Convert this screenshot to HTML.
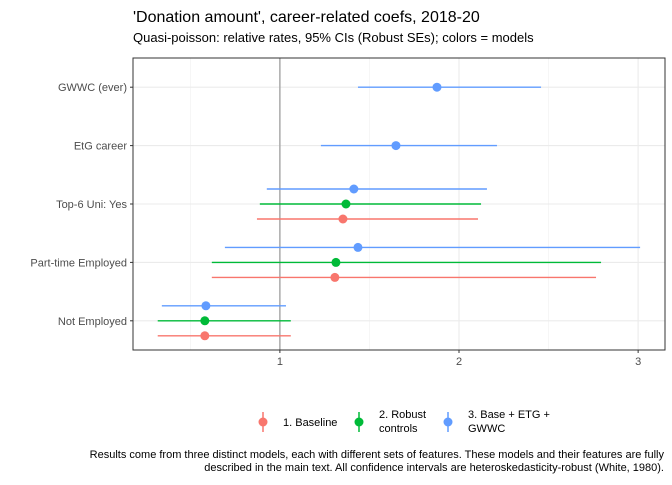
<!DOCTYPE html>
<html><head><meta charset="utf-8"><style>
body{margin:0;background:#fff;font-family:"Liberation Sans",Arial,sans-serif}
text{font-family:"Liberation Sans",Arial,sans-serif}
</style></head><body>
<svg id="c" width="672" height="480" viewBox="0 0 672 480">
<rect width="672" height="480" fill="#fff"/>
<text x="133" y="22" font-size="16" fill="#000">'Donation amount', career-related coefs, 2018-20</text>
<text x="133" y="42" font-size="13" fill="#000">Quasi-poisson: relative rates, 95% CIs (Robust SEs); colors = models</text>
<g id="grid"></g>
<g id="marks"></g>
<g id="axes"></g>
<g font-size="11" fill="#000">
<line x1="263" y1="412" x2="263" y2="432" stroke="#F8766D" stroke-width="1.5"/><circle cx="263" cy="422" r="4.5" fill="#F8766D"/>
<text x="283" y="426">1. Baseline</text>
<line x1="359" y1="412" x2="359" y2="432" stroke="#00BA38" stroke-width="1.5"/><circle cx="359" cy="422" r="4.5" fill="#00BA38"/>
<text x="379" y="418">2. Robust</text><text x="379" y="432">controls</text>
<line x1="448" y1="412" x2="448" y2="432" stroke="#619CFF" stroke-width="1.5"/><circle cx="448" cy="422" r="4.5" fill="#619CFF"/>
<text x="468" y="418">3. Base + ETG +</text><text x="468" y="432">GWWC</text>
</g>
<text x="664" y="458" font-size="11" text-anchor="end">Results come from three distinct models, each with different sets of features. These models and their features are fully</text>
<text x="664" y="471" font-size="11" text-anchor="end">described in the main text. All confidence intervals are heteroskedasticity-robust (White, 1980).</text>
</svg>
<script>
const categories=["GWWC (ever)","EtG career","Top-6 Uni: Yes","Part-time Employed","Not Employed"];
const seriesNames=["1. Baseline","2. Robust controls","3. Base + ETG + GWWC"];
const baselineEst=[null,null,1.352,1.307,0.581];
const baselineLo=[null,null,0.872,0.62,0.318];
const baselineHi=[null,null,2.106,2.765,1.061];
const robustEst=[null,null,1.369,1.313,0.581];
const robustLo=[null,null,0.888,0.62,0.318];
const robustHi=[null,null,2.123,2.793,1.061];
const fullEst=[1.877,1.648,1.413,1.436,0.587];
const fullLo=[1.436,1.229,0.927,0.693,0.341];
const fullHi=[2.458,2.212,2.156,3.011,1.034];
const xTicks=[1,2,3];
const xMinor=[0.5,1.5,2.5];
const L=133,R=665,T=58,B=350,xmin=0.18,xmax=3.15;
const sx=v=>L+(v-xmin)/(xmax-xmin)*(R-L);
const step=(B-T)/categories.length;
const sy=i=>T+step*(i+0.5);
const NS="http://www.w3.org/2000/svg";
function mk(tag,attrs,parent){const e=document.createElementNS(NS,tag);for(const k in attrs)e.setAttribute(k,attrs[k]);document.getElementById(parent).appendChild(e);return e;}
xMinor.forEach(v=>{const e=mk('line',{x1:sx(v),x2:sx(v),y1:T,y2:B,stroke:'#f0f0f0','stroke-width':0.6},'grid');

});
xTicks.forEach(v=>{const e=mk('line',{x1:sx(v),x2:sx(v),y1:T,y2:B,stroke:'#ebebeb','stroke-width':1.1},'grid');

});
categories.forEach((c,i)=>{const e=mk('line',{x1:L,x2:R,y1:sy(i),y2:sy(i),stroke:'#ebebeb','stroke-width':1.1},'grid');

});
const ref=mk('line',{x1:sx(1),x2:sx(1),y1:T,y2:B,stroke:'#aaa','stroke-width':1.5},'grid');


const series=[[baselineEst,baselineLo,baselineHi,'#F8766D',15],[robustEst,robustLo,robustHi,'#00BA38',0],[fullEst,fullLo,fullHi,'#619CFF',-15]];
series.forEach((s,k)=>{categories.forEach((c,i)=>{if(s[0][i]==null)return;
const n=series.filter(q=>q[0][i]!=null).length;
const y=sy(i)+(n>1?s[4]:0);
const l=mk('line',{x1:sx(s[1][i]),x2:sx(s[2][i]),y1:y,y2:y,stroke:s[3],'stroke-width':1.4},'marks');


const p=mk('circle',{cx:sx(s[0][i]),cy:y,r:4.5,fill:s[3]},'marks');

});});
const fr=mk('rect',{x:L,y:T,width:R-L,height:B-T,fill:'none',stroke:'#333','stroke-width':1},'axes');


xTicks.forEach(v=>{mk('line',{x1:sx(v),x2:sx(v),y1:B,y2:B+3,stroke:'#333'},'axes');
const t=mk('text',{x:sx(v),y:B+15,'font-size':11,fill:'#4d4d4d','text-anchor':'middle'},'axes');t.textContent=v;

});
categories.forEach((c,i)=>{mk('line',{x1:L-3,x2:L,y1:sy(i),y2:sy(i),stroke:'#333'},'axes');
const t=mk('text',{x:L-6,y:sy(i)+4,'font-size':11,fill:'#4d4d4d','text-anchor':'end'},'axes');t.textContent=c;

});
</script>
</body></html>
